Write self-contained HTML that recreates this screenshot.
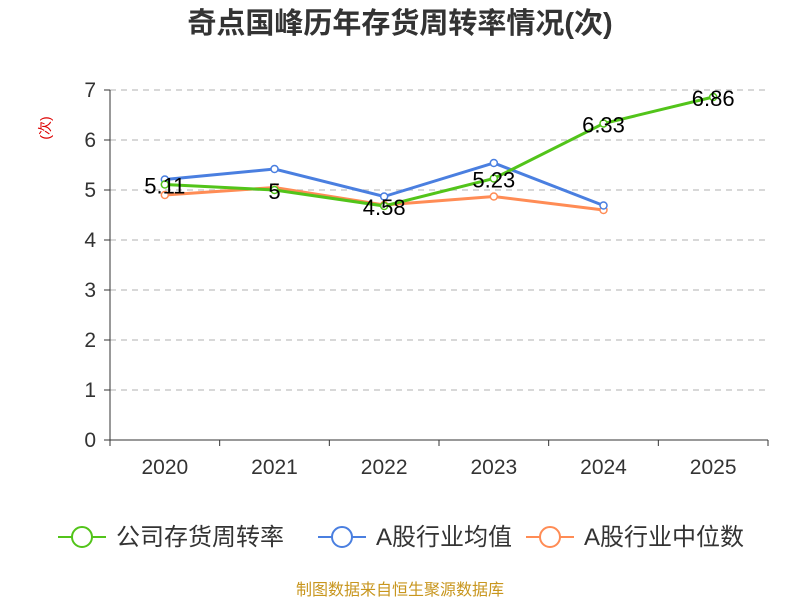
<!DOCTYPE html>
<html><head><meta charset="utf-8"><style>
body{margin:0;background:#fff;font-family:"Liberation Sans","Noto Sans CJK SC",sans-serif}
</style></head><body>
<svg id="c" width="800" height="600" xmlns="http://www.w3.org/2000/svg" font-family="Liberation Sans, Noto Sans CJK SC, sans-serif">
<text x="400" y="33" text-anchor="middle" font-size="29" font-weight="bold" fill="#333">奇点国峰历年存货周转率情况(次)</text>
<text transform="translate(50,128) rotate(-90)" text-anchor="middle" font-size="14" fill="#d00">(次)</text>
<g id="grid"></g><g id="axes"></g><g id="series"></g>
<g id="legend"></g>
<text x="400" y="595" text-anchor="middle" font-size="16" fill="#c8961e">制图数据来自恒生聚源数据库</text>
</svg>
<script>
const categories=["2020","2021","2022","2023","2024","2025"];
const companyValues=[5.11,5.0,4.68,5.23,6.33,6.86];
const companyLabels=["5.11","5","4.58","5.23","6.33","6.86"];
const avgValues=[5.21,5.42,4.87,5.54,4.69,null];
const medianValues=[4.9,5.05,4.7,4.87,4.6,null];
const yTicks=[0,1,2,3,4,5,6,7];
const NS="http://www.w3.org/2000/svg";
const x0=110,x1=768,y0=440,yTop=90,yMax=7;
const bw=(x1-x0)/categories.length;
const X=i=>x0+bw*(i+0.5);
const Y=v=>y0-(v/yMax)*(y0-yTop);
function mk(t,a,p){const e=document.createElementNS(NS,t);for(const k in a)e.setAttribute(k,a[k]);p.appendChild(e);return e;}
const grid=document.getElementById('grid'),axes=document.getElementById('axes'),ser=document.getElementById('series'),leg=document.getElementById('legend');
yTicks.forEach(t=>{
 if(t>0){const g=mk('line',{x1:x0,x2:x1,y1:Y(t),y2:Y(t),stroke:'#ccc','stroke-dasharray':'6,5','stroke-width':1.5},grid);
 }
 mk('line',{x1:x0-6,x2:x0,y1:Y(t),y2:Y(t),stroke:'#333'},axes);
 const l=mk('text',{x:x0-14,y:Y(t)+7,'text-anchor':'end','font-size':21,fill:'#333'},axes);l.textContent=t;
 
});
mk('line',{x1:x0,x2:x0,y1:yTop,y2:y0,stroke:'#333'},axes);
mk('line',{x1:x0,x2:x1,y1:y0,y2:y0,stroke:'#333'},axes);
for(let i=0;i<=categories.length;i++)mk('line',{x1:x0+bw*i,x2:x0+bw*i,y1:y0,y2:y0+6,stroke:'#333'},axes);
categories.forEach((c,i)=>{const l=mk('text',{x:X(i),y:y0+34,'text-anchor':'middle','font-size':21,fill:'#333'},axes);l.textContent=c;
 });
function series(vals,color,name,labels){
 const pts=vals.map((v,i)=>v==null?null:[X(i),Y(v)]).filter(p=>p);
 const pl=mk('polyline',{points:pts.map(p=>p.join(',')).join(' '),fill:'none',stroke:color,'stroke-width':3},ser);
 
 vals.forEach((v,i)=>{if(v==null)return;
  const c=mk('circle',{cx:X(i),cy:Y(v),r:3.5,fill:'#fff',stroke:color,'stroke-width':1.5},ser);
  
  if(labels){const t=mk('text',{x:X(i),y:Y(v)+9,'text-anchor':'middle','font-size':22,fill:'#000'},ser);t.textContent=labels[i];
   }
 });
}
series(medianValues,'#ff8c55','median');
series(avgValues,'#4a7fe0','average');
series(companyValues,'#52c41a','company',companyLabels);
[['公司存货周转率','#52c41a',58],['A股行业均值','#4a7fe0',318],['A股行业中位数','#ff8c55',526]].forEach(([n,c,x])=>{
 const g=mk('g',{},leg);
 mk('line',{x1:x,x2:x+48,y1:537,y2:537,stroke:c,'stroke-width':2},g);
 mk('circle',{cx:x+24,cy:537,r:10,fill:'#fff',stroke:c,'stroke-width':2},g);
 const t=mk('text',{x:x+58,y:545,'font-size':24,fill:'#333'},g);t.textContent=n;
});
</script>
</body></html>
